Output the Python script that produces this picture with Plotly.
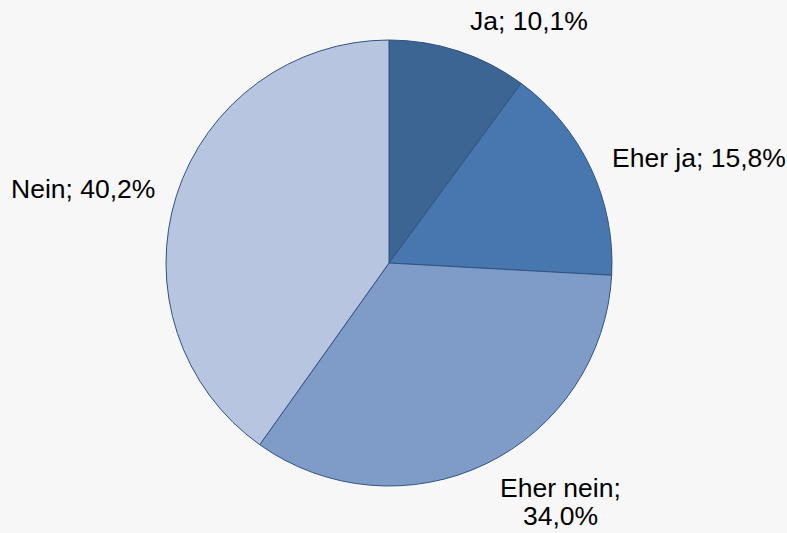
import math
import plotly.graph_objects as go

labels = ["Ja", "Eher ja", "Eher nein", "Nein"]
values = [10.1, 15.8, 34.0, 40.2]
label_lines = [["Ja; 10,1%"], ["Eher ja; 15,8%"], ["Eher nein;", "34,0%"], ["Nein; 40,2%"]]
colors = ["#3c6594", "#4877b0", "#7f9cc8", "#b7c5e0"]

W, H = 787, 533
cx, cy, R = 389, 263, 223
FS = 26.5
LINE_GAP = 28
MULTI_LIFT = 4
HALF_W = 61  # approx half width of multi-line label block

fig = go.Figure(go.Pie(
    labels=labels, values=values, sort=False, direction="clockwise", rotation=0,
    marker=dict(colors=colors, line=dict(color="#2f5382", width=1)),
    textinfo="none", hoverinfo="label+percent", showlegend=False,
    domain=dict(x=[(cx - R) / W, (cx + R) / W], y=[(H - cy - R) / H, (H - cy + R) / H]),
))

total = sum(values)
cum = 0.0
annotations = []
for v, lines in zip(values, label_lines):
    mid = (cum + v / 2) / total * 2 * math.pi
    cum += v
    s, c = math.sin(mid), math.cos(mid)
    rl = R * (1.09 + 0.06 * c * c)
    px = cx + rl * s
    py = cy - rl * c
    for i, t in enumerate(lines):
        if len(lines) > 1:
            xa = "center"
            xx = px + (HALF_W if s > 0 else -HALF_W)
            ys = MULTI_LIFT - i * LINE_GAP
        else:
            xa = "left" if s > 0 else "right"
            xx = px
            ys = 0
        annotations.append(dict(
            x=xx / W, y=1 - py / H, xref="paper", yref="paper", text=t,
            showarrow=False, xanchor=xa, yanchor="middle", yshift=ys,
            borderpad=0,
            font=dict(family="Liberation Sans, Arial", size=FS, color="#000000"),
        ))

fig.update_layout(
    width=W, height=H, margin=dict(l=0, r=0, t=0, b=0),
    paper_bgcolor="#f7f7f7", plot_bgcolor="#f7f7f7",
    annotations=annotations,
)
fig.write_html(
    "out.html",
    config={"displayModeBar": False},
    post_script="document.body.style.margin='0';document.body.style.background='#f7f7f7';document.body.style.overflow='hidden';",
)
